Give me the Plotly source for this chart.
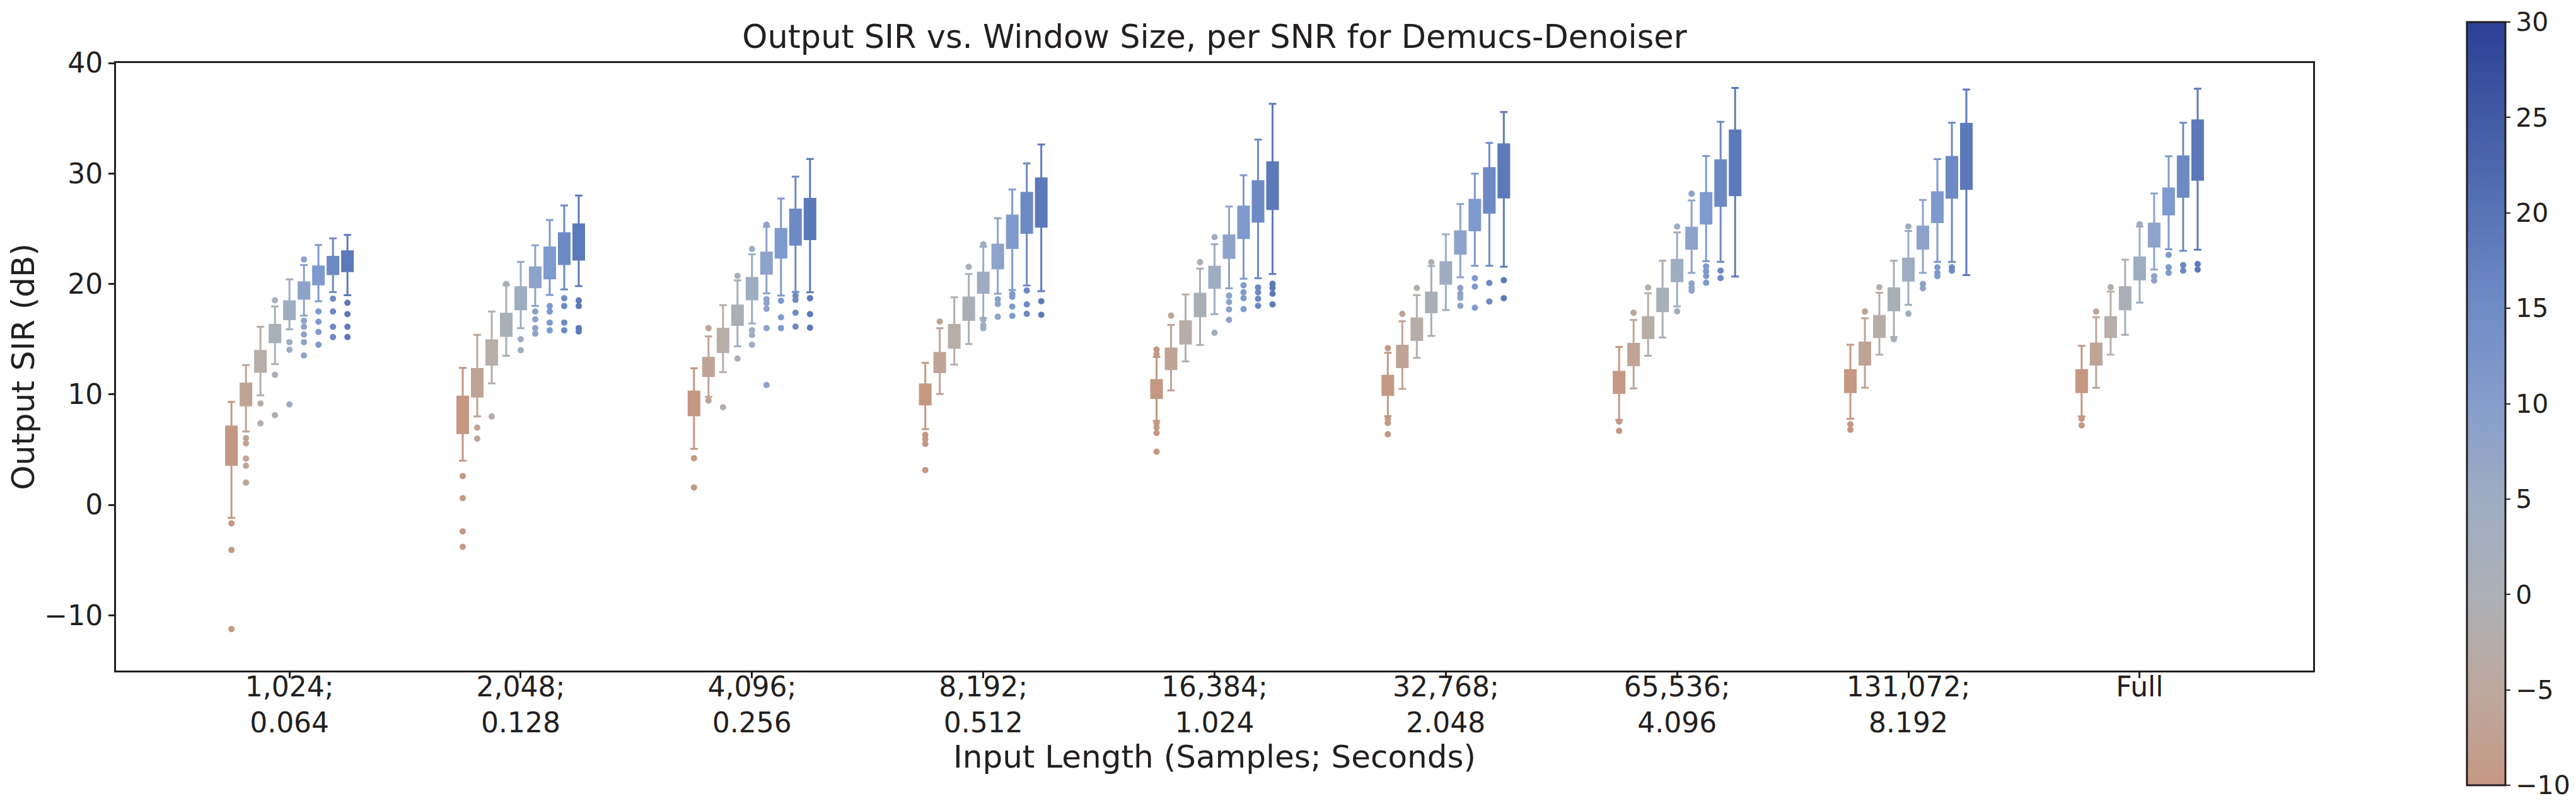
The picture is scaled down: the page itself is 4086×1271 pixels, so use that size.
import plotly.graph_objects as go

# ---------------- data ----------------
window_labels = ["1,024;<br>0.064", "2,048;<br>0.128", "4,096;<br>0.256", "8,192;<br>0.512",
                 "16,384;<br>1.024", "32,768;<br>2.048", "65,536;<br>4.096",
                 "131,072;<br>8.192", "Full"]
snr_levels = [-10, -5, 0, 5, 10, 15, 20, 25, 30]
colorbar_ticks = [-10, -5, 0, 5, 10, 15, 20, 25, 30]
y_ticks = [-10, 0, 10, 20, 30, 40]

# rows = SNR level, columns = window size
upper_fence = [
    [9.32, 12.4, 12.37, 12.86, 13.39, 13.77, 14.3, 14.5, 14.4],
    [12.65, 15.4, 15.25, 15.99, 16.29, 16.62, 16.73, 16.9, 17.0],
    [16.12, 17.5, 18.08, 18.79, 19.04, 18.99, 19.16, 19.2, 19.3],
    [17.97, 19.9, 20.32, 20.9, 21.39, 21.62, 22.1, 22.1, 22.2],
    [20.42, 22.0, 22.69, 23.37, 23.6, 24.49, 24.67, 24.8, 25.2],
    [21.71, 23.5, 25.18, 25.95, 27.01, 27.24, 27.56, 27.6, 28.19],
    [23.52, 25.8, 27.73, 28.54, 29.84, 29.99, 31.58, 31.3, 31.56],
    [24.12, 27.1, 29.72, 30.91, 33.07, 32.77, 34.68, 34.6, 34.6],
    [24.44, 28.0, 31.32, 32.62, 36.31, 35.57, 37.74, 37.6, 37.68],
]
q3 = [
    [7.1, 9.8, 10.26, 10.9, 11.3, 11.68, 12.05, 12.2, 12.2],
    [10.99, 12.3, 13.32, 13.75, 14.15, 14.41, 14.58, 14.7, 14.6],
    [13.94, 14.9, 15.94, 16.29, 16.62, 16.88, 17.0, 17.1, 17.0],
    [16.3, 17.3, 18.05, 18.77, 19.12, 19.22, 19.58, 19.6, 19.7],
    [18.43, 19.7, 20.55, 21.03, 21.56, 21.97, 22.18, 22.3, 22.4],
    [20.14, 21.5, 22.84, 23.55, 24.39, 24.77, 25.1, 25.2, 25.47],
    [21.58, 23.3, 24.98, 26.2, 27.01, 27.62, 28.23, 28.3, 28.65],
    [22.45, 24.6, 26.74, 28.24, 29.3, 30.48, 31.2, 31.5, 31.56],
    [22.96, 25.4, 27.7, 29.56, 31.01, 32.64, 33.9, 34.5, 34.81],
]
q1 = [
    [3.63, 6.5, 8.10, 9.09, 9.67, 9.95, 10.13, 10.2, 10.2],
    [9.0, 9.8, 11.66, 12.02, 12.29, 12.47, 12.64, 12.7, 12.7],
    [12.05, 12.7, 13.82, 14.23, 14.59, 14.92, 15.09, 15.2, 15.2],
    [14.73, 15.3, 16.29, 16.75, 17.08, 17.44, 17.54, 17.6, 17.7],
    [16.81, 17.7, 18.61, 19.2, 19.65, 20.01, 20.24, 20.3, 20.4],
    [18.66, 19.7, 20.93, 21.41, 22.35, 22.74, 23.19, 23.2, 23.38],
    [19.96, 20.5, 22.38, 23.25, 24.16, 24.85, 25.47, 25.6, 26.29],
    [20.88, 21.8, 23.55, 24.62, 25.64, 26.45, 27.07, 27.8, 27.89],
    [21.16, 22.2, 24.06, 25.18, 26.78, 27.83, 28.04, 28.6, 29.43],
]
lower_fence = [
    [-1.18, 4.0, 5.07, 6.85, 7.61, 8.04, 7.7, 7.8, 8.0],
    [6.64, 8.0, 9.78, 10.03, 10.36, 10.51, 10.55, 10.6, 10.6],
    [9.92, 11.0, 12.02, 12.7, 12.98, 13.31, 13.5, 13.6, 13.6],
    [12.74, 13.5, 14.36, 14.56, 14.48, 15.3, 15.15, 15.2, 15.4],
    [15.89, 16.0, 16.42, 16.91, 17.26, 17.64, 17.96, 18.1, 18.3],
    [17.14, 18.0, 19.15, 19.12, 19.6, 20.6, 21.0, 21.0, 21.3],
    [18.43, 19.0, 18.94, 19.45, 20.47, 21.64, 22.05, 22.0, 23.14],
    [19.26, 19.5, 19.27, 19.86, 20.52, 21.64, 22.0, 22.0, 23.0],
    [18.98, 19.8, 19.25, 19.35, 20.9, 21.56, 20.68, 20.8, 23.1],
]
outliers = [
    [[-1.68, -4.09, -11.25], [2.6, 0.6, -2.4, -3.8], [4.22, 1.58], [6.34, 5.96, 5.52, 3.15],
     [14.05, 13.64, 7.41, 7.02, 6.51, 4.81], [14.18, 7.79, 7.41, 6.39], [7.54, 6.7], [7.3, 6.8], [7.8, 7.2]],
    [[6.04, 5.57, 4.19, 3.54, 2.01], [7.0, 6.0], [16.0, 9.44], [16.6], [17.13], [17.29], [17.39], [17.5], [17.5]],
    [[9.18, 7.38], [8.0], [8.83], [], [], [19.63], [19.67], [19.7], [19.7]],
    [[18.52, 11.77, 8.12], [20.0], [20.73, 13.24], [21.54], [21.97], [21.97], [], [15.0], []],
    [[14.73, 14.04, 9.09], [15.0, 14.0], [23.17, 15.81, 15.38, 14.49], [23.58, 16.78, 16.27, 16.0],
     [24.24, 15.58], [], [25.19, 17.52], [25.2, 17.3], [25.4]],
    [[22.22, 16.67, 16.12, 15.42, 14.73, 13.53], [17.5, 16.8, 16.0, 15.5], [25.36, 18.61, 18.26, 17.75, 16.0, 10.85],
     [18.61, 18.18, 17.03], [18.94, 18.36, 17.69, 16.75], [19.63, 19.12, 18.74, 18.02], [28.17, 20.05, 19.67, 19.39],
     [20.0, 19.6], [20.7, 20.3]],
    [[17.51, 16.58, 15.65, 14.5], [18.0, 17.5, 16.5, 15.8], [18.48, 16.98, 16.0], [19.07, 18.84, 17.95, 17.11],
     [19.88, 19.25, 18.71, 17.72], [20.52, 19.76, 17.85], [21.58, 21.14, 20.72, 20.11], [21.5, 21.0, 20.7],
     [22.63, 21.5, 21.0]],
    [[18.66, 17.51, 16.12, 15.19], [18.7, 18.0, 16.5, 15.8], [18.94, 18.56, 17.39, 16.14], [19.4, 18.15, 17.29],
     [19.68, 19.25, 18.66, 18.02], [20.09, 18.41], [21.2, 20.53], [21.5, 21.2], [21.7, 21.2]],
    [[18.29, 17.27, 16.12, 15.19], [18.5, 18.0, 16.0, 15.7], [18.71, 17.26, 16.04], [18.43, 17.21],
     [20.01, 19.63, 19.12, 18.15], [20.34, 18.71], [], [], [21.8, 21.3]],
]
box_colors = ["#c49882", "#bfa496", "#b7ada9", "#a8afb6", "#9eadc2",
              "#8ea3ca", "#7e9ace", "#6d8ac4", "#5c79ba"]
cbar_colors = ["#c69884", "#bca89e", "#acb0b6", "#9eacc3", "#859dcb",
               "#708cc6", "#5873b6", "#415aa5", "#2c4096"]

# ---------------- figure ----------------
W, H = 4086, 1271
PX0, PX1, PY0, PY1 = 176, 3661, 92, 1056     # plot area in pixels
L, R, T, B = PX0, W - PX1, PY0, H - PY1
font_family = "DejaVu Sans"
ink = "#231f20"

step = 0.0627      # dodge between hue boxes (axis units)
box_w = 0.0464

fig = go.Figure()
n_groups = len(window_labels)
for k, snr in enumerate(snr_levels):
    off = (k - 4) * step
    xs = [g + off for g in range(n_groups)]
    med = [(a + b) / 2 for a, b in zip(q1[k], q3[k])]
    c = box_colors[k]
    fig.add_trace(go.Box(
        x=xs, q1=q1[k], median=med, q3=q3[k],
        lowerfence=lower_fence[k], upperfence=upper_fence[k],
        width=box_w, whiskerwidth=0.7, boxpoints=False,
        fillcolor=c, line=dict(color=c, width=3),
        name=f"SNR {snr}", showlegend=False, hoverinfo="skip",
    ))
    ox, oy = [], []
    for g in range(n_groups):
        for v in outliers[k][g]:
            ox.append(g + off)
            oy.append(v)
    fig.add_trace(go.Scatter(
        x=ox, y=oy, mode="markers",
        marker=dict(color=c, size=10, line=dict(width=0)),
        showlegend=False, hoverinfo="skip",
    ))

# colour bar (pixel placement converted to paper fractions)
cb_left, cb_top, cb_bottom = 3905, 27, 1238
pw, ph = PX1 - PX0, PY1 - PY0
n = len(cbar_colors)
colorscale = [[i / (n - 1), col] for i, col in enumerate(cbar_colors)]
fig.add_trace(go.Scatter(
    x=[None], y=[None], mode="markers", showlegend=False, hoverinfo="skip",
    marker=dict(color=[snr_levels[0], snr_levels[-1]],
                cmin=snr_levels[0], cmax=snr_levels[-1],
                colorscale=colorscale, showscale=True,
                colorbar=dict(
                    x=(cb_left - PX0) / pw, xanchor="left", xpad=0, ypad=0,
                    y=(PY1 - (cb_top + cb_bottom) / 2) / ph, yanchor="middle",
                    thickness=61, thicknessmode="pixels",
                    len=cb_bottom - cb_top, lenmode="pixels",
                    outlinewidth=3, outlinecolor=ink,
                    tickmode="array", tickvals=colorbar_ticks,
                    ticktext=[str(v).replace("-", "\u2212") for v in colorbar_ticks],
                    ticklabeloverflow="allow",
                    ticks="outside", ticklen=7, tickwidth=2, tickcolor=ink,
                    tickfont=dict(family=font_family, size=41, color=ink),
                )),
))

fig.update_layout(
    width=W, height=H,
    margin=dict(l=L, r=R, t=T, b=B, autoexpand=False),
    paper_bgcolor="white", plot_bgcolor="white",
    boxmode="overlay",
    font=dict(family=font_family, color=ink, size=44),
    title=dict(text="Output SIR vs. Window Size, per SNR for Demucs-Denoiser",
               x=0.5, xref="paper", xanchor="center",
               y=1 - 50 / H, yref="container", yanchor="middle",
               font=dict(family=font_family, size=51, color=ink)),
    xaxis=dict(range=[-0.75, 8.75], tickvals=list(range(n_groups)), ticktext=window_labels,
               showgrid=False, zeroline=False, showline=True, mirror=True,
               linecolor=ink, linewidth=3, ticks="outside", ticklen=9, tickwidth=3,
               tickcolor=ink, tickfont=dict(size=44), ticklabelstandoff=-24,
               title=dict(text="Input Length (Samples; Seconds)", standoff=10,
                          font=dict(size=50))),
    yaxis=dict(range=[-15, 40], tickvals=y_ticks,
               showgrid=False, zeroline=False, showline=True, mirror=True,
               linecolor=ink, linewidth=3, ticks="outside", ticklen=9, tickwidth=3,
               tickcolor=ink, tickfont=dict(size=44),
               title=dict(text="Output SIR (dB)", standoff=6, font=dict(size=50))),
)

fig.write_html("out.html")
